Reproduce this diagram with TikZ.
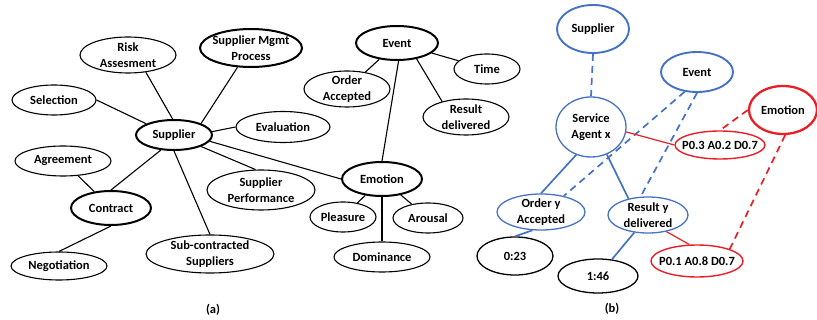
\documentclass[tikz,border=0pt]{standalone}
\usepackage{fontspec}
\setmainfont{Carlito}
\usetikzlibrary{shapes.geometric}
\definecolor{agentblue}{RGB}{68,114,196}
\definecolor{emored}{RGB}{235,30,38}
\begin{document}
\begin{tikzpicture}[x=1pt,y=-1pt,
  lbl/.style={font=\bfseries\fontsize{12.5}{16}\selectfont, align=center},
  ell/.style={ellipse, draw, inner xsep=-12pt, inner ysep=-6pt, line width=1.1pt, lbl},
  keyell/.style={ell, line width=2pt},
  blueell/.style={ell, draw=agentblue, line width=1.3pt},
  bluekey/.style={ell, draw=agentblue, line width=1.9pt},
  redell/.style={ell, draw=emored, line width=1.4pt},
  redkey/.style={ell, draw=emored, line width=2.3pt},
  link/.style={line width=1.1pt},
  bluelink/.style={draw=agentblue, line width=1.7pt},
  bluedash/.style={bluelink, dash pattern=on 7pt off 5pt},
  redlink/.style={draw=emored, line width=1.2pt},
  reddash/.style={draw=emored, line width=1.7pt, dash pattern=on 7pt off 5pt}]
\useasboundingbox (0,0) rectangle (817,320);

% ---- (a) concept map ----
\node[ell, minimum width=96pt, minimum height=36pt] (risk) at (128,55) {Risk\\Assesment};
\node[keyell, minimum width=102pt, minimum height=38pt] (smp) at (251,48) {Supplier Mgmt\\Process};
\node[ell, minimum width=84pt, minimum height=30pt] (sel) at (54,100) {Selection};
\node[keyell, minimum width=76pt, minimum height=30pt] (sup) at (174,135) {Supplier};
\node[ell, minimum width=94pt, minimum height=31pt] (eval) at (283,127) {Evaluation};
\node[ell, minimum width=96pt, minimum height=30pt] (agr) at (63,161) {Agreement};
\node[keyell, minimum width=80pt, minimum height=34pt] (con) at (111,208) {Contract};
\node[ell, minimum width=96pt, minimum height=28pt] (neg) at (59,266) {Negotiation};
\node[ell, minimum width=108pt, minimum height=40pt] (perf) at (261,190) {Supplier\\Performance};
\node[ell, minimum width=128pt, minimum height=38pt] (sub) at (210,254) {Sub-contracted\\Suppliers};
\node[keyell, minimum width=82pt, minimum height=34pt] (ev) at (397,43) {Event};
\node[ell, minimum width=86pt, minimum height=36pt] (ord) at (347,89) {Order\\Accepted};
\node[ell, minimum width=66pt, minimum height=30pt] (time) at (487,69) {Time};
\node[ell, minimum width=86pt, minimum height=36pt] (res) at (466,117) {Result\\delivered};
\node[keyell, minimum width=80pt, minimum height=34pt] (emo) at (382,179) {Emotion};
\node[ell, minimum width=66pt, minimum height=30pt] (ple) at (343,217) {Pleasure};
\node[ell, minimum width=70pt, minimum height=30pt] (aro) at (428,218) {Arousal};
\node[ell, minimum width=96pt, minimum height=30pt] (dom) at (382,257) {Dominance};
\node[lbl] (capa) at (213,310) {(a)};

\draw[link] (risk.-44) -- (sup.95);
\draw[link] (smp.-125) -- (sup.23);
\draw[link] (sel.east) -- (sup.158);
\draw[link] (sup.5) -- (eval.west);
\draw[link] (sup.-131) -- (con.north);
\draw[link] (sup.-23) -- (perf.105);
\draw[link] (sup.-10) -- (emo.west);
\draw[link] (sup.south) -- (sub.north);
\draw[link] (con) -- (agr);
\draw[link] (con.south) -- (neg.north);
\draw[link] (ev) -- (ord);
\draw[link] (ev) -- (time);
\draw[link] (ev.-39) -- (res.147);
\draw[link] (ev.-85) -- (emo.north);
\draw[link] (emo) -- (ple);
\draw[link] (emo) -- (aro);
\draw[link] (emo) -- (dom);

% ---- (b) instance graph ----
\node[bluekey, minimum width=72pt, minimum height=48pt] (bsup) at (593,29) {Supplier};
\node[bluekey, minimum width=72pt, minimum height=40pt] (bev) at (697,72) {Event};
\node[blueell, minimum width=70pt, minimum height=60pt] (agent) at (591,127) {Service\\Agent x};
\node[redkey, minimum width=68pt, minimum height=48pt] (bemo) at (783,110) {Emotion};
\node[redell, minimum width=90pt, minimum height=28pt] (pad1) at (720,145) {P0.3 A0.2 D0.7};
\node[blueell, minimum width=88pt, minimum height=36pt] (bord) at (541,212) {Order y\\Accepted};
\node[blueell, minimum width=80pt, minimum height=36pt] (bres) at (648,215) {Result y\\delivered};
\node[ell, line width=1.3pt, minimum width=76pt, minimum height=38pt] (t1) at (515,256) {0:23};
\node[ell, line width=1.3pt, minimum width=80pt, minimum height=34pt] (t2) at (598,276) {1:46};
\node[redell, minimum width=92pt, minimum height=32pt] (pad2) at (697,261) {P0.1 A0.8 D0.7};
\node[lbl] (capb) at (612,309) {(b)};

\draw[bluedash] (bsup.south) -- (agent.north);
\draw[bluelink] (agent.-118) -- (bord.north);
\draw[bluelink] (agent.-60) -- (bres.140);
\draw[bluedash] (bev.-122) -- (bord.35);
\draw[bluedash] (bev.-90) -- (bres.112);
\draw[redlink] (agent.-8) -- (pad1.west);
\draw[reddash] (bemo.west) -- (pad1.north);
\draw[reddash] (bemo.-85) -- (pad2.20);
\draw[redlink] (bres.-42) -- (pad2.115);
\draw[bluelink] (bord.-115) -- (t1.north);
\draw[bluelink] (bres.-128) -- (t2.50);
\end{tikzpicture}
\end{document}
